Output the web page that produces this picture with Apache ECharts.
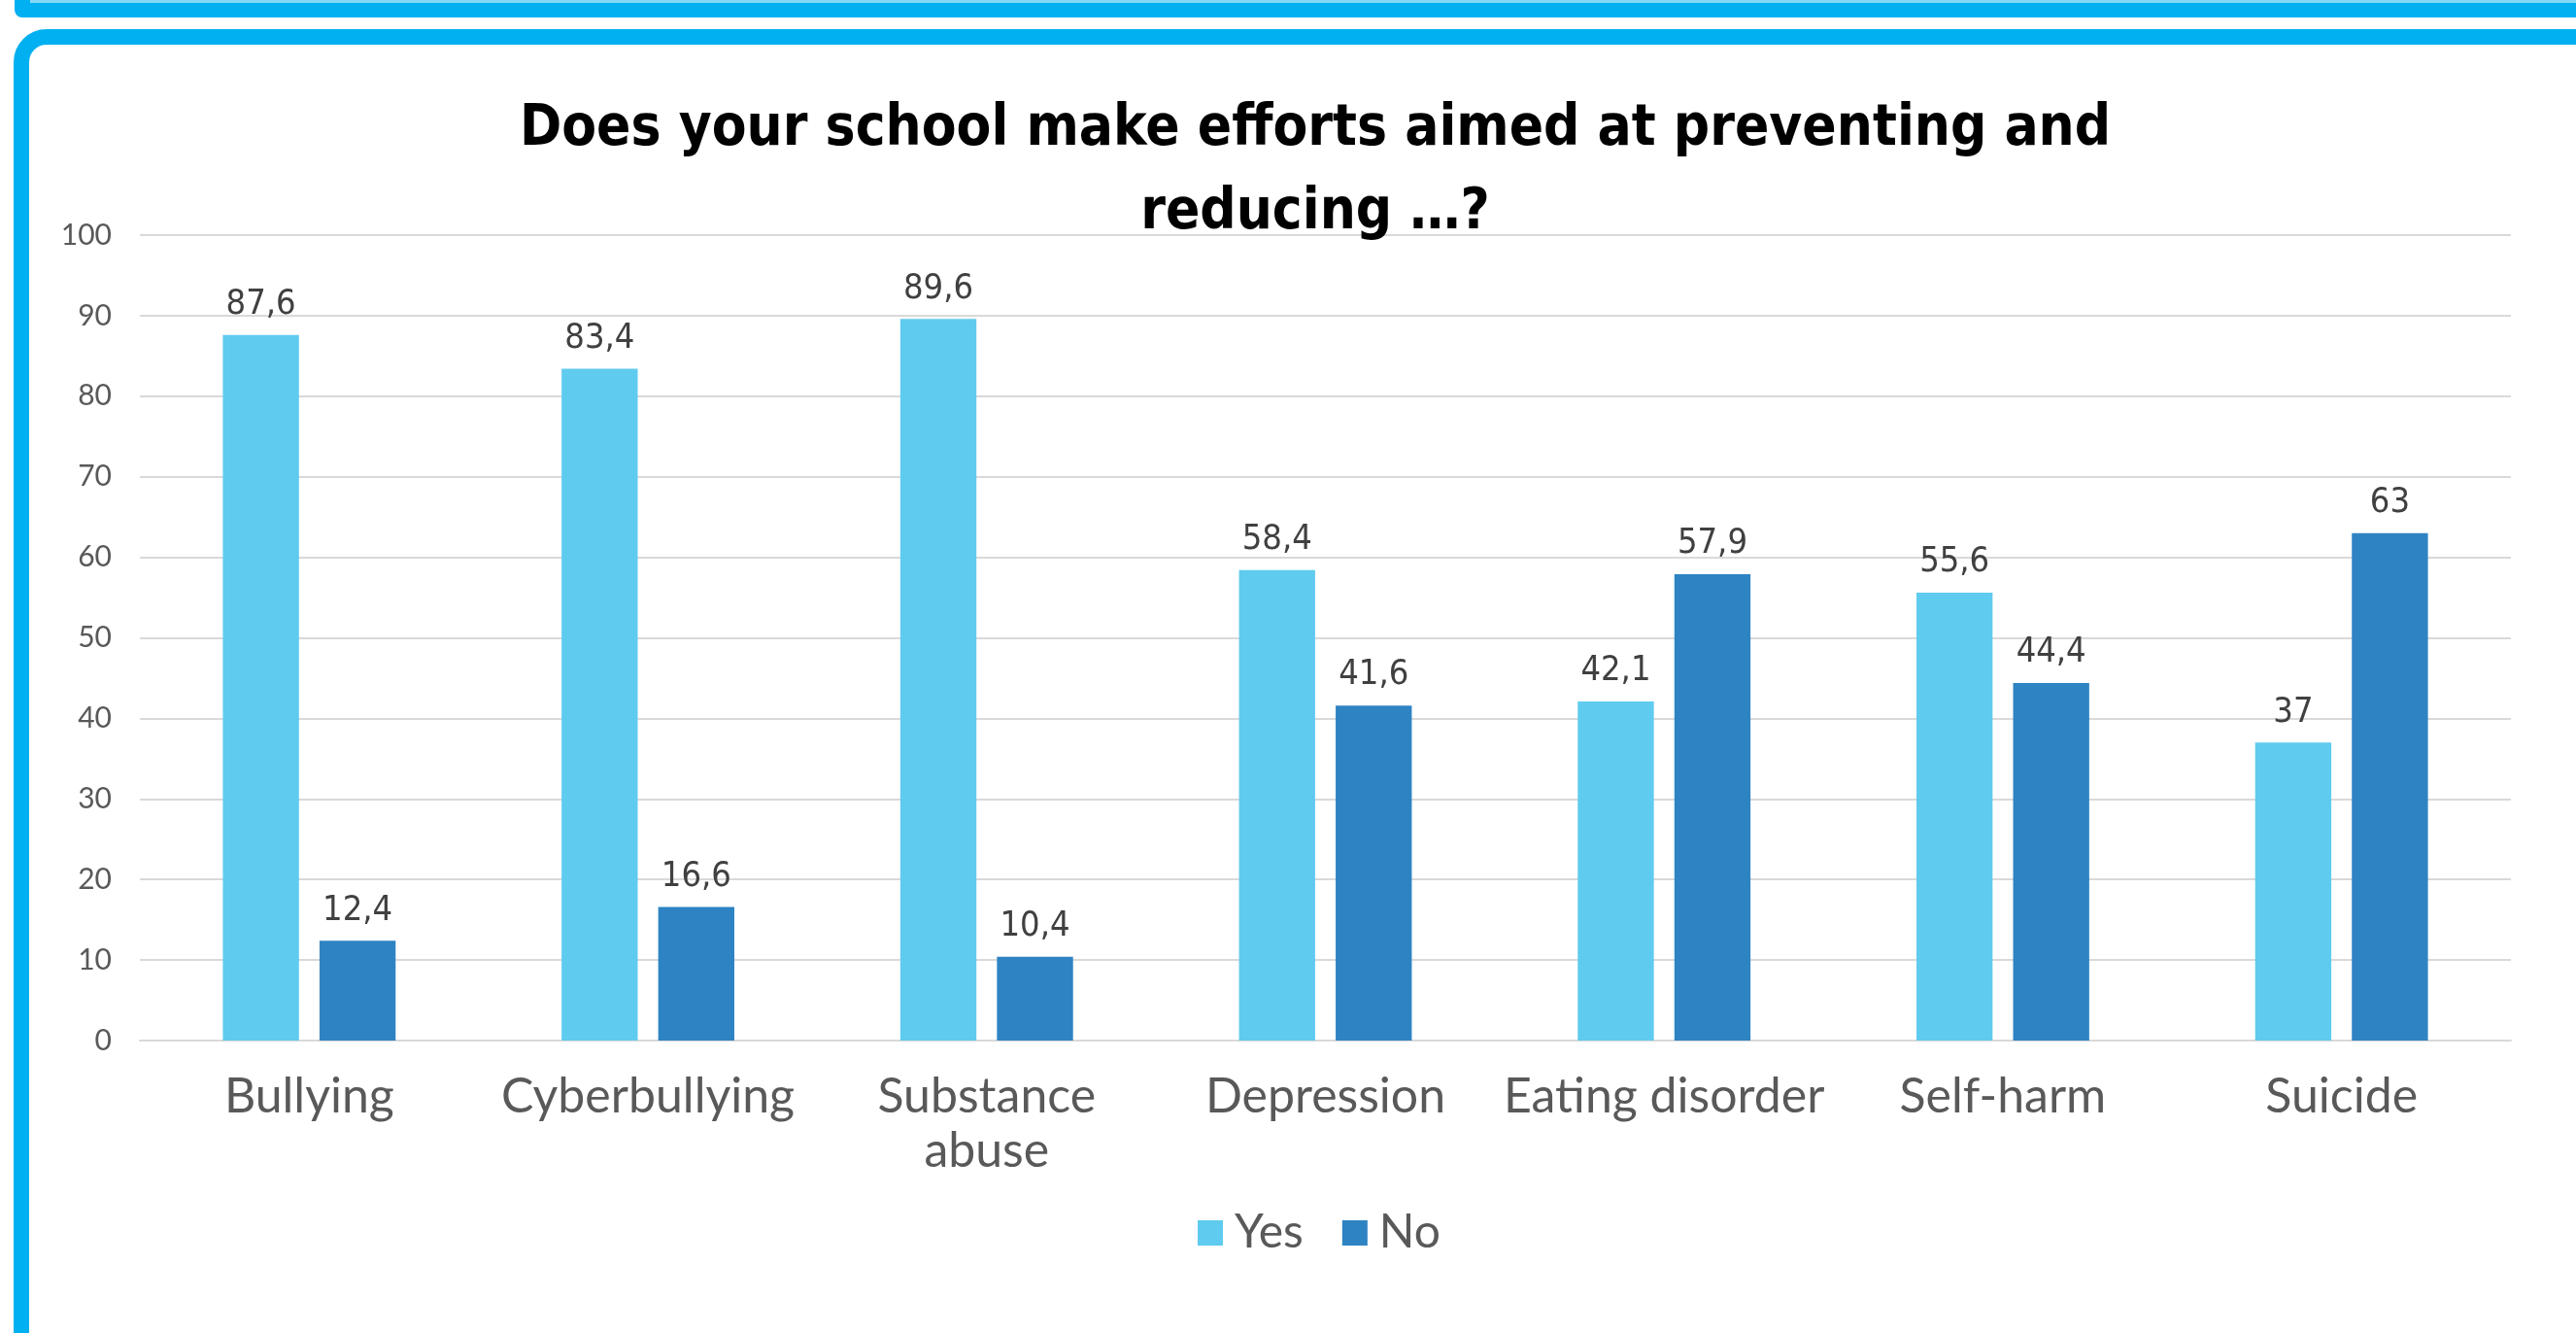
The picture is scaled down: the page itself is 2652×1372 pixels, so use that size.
<!DOCTYPE html>
<html>
<head>
<meta charset="utf-8">
<script src="https://cdn.jsdelivr.net/npm/echarts@6/dist/echarts.min.js"></script>
<style>
  html, body { margin: 0; padding: 0; width: 2652px; height: 1372px; overflow: hidden; background: #fff; }
  #topbar { position: absolute; left: 15px; top: -20px; width: 2700px; height: 38px; background: #00B0F0; border-bottom-left-radius: 8px; }
  #topstripe { position: absolute; left: 31px; top: 0px; width: 2700px; height: 3px; background: #86D8F7; }
  #frame { position: absolute; left: 14px; top: 30px; width: 2700px; height: 1400px; border: 16px solid #00B0F0; border-radius: 34px; box-sizing: border-box; }
  #chart { position: absolute; left: 0; top: 0; width: 2652px; height: 1372px; }
</style>
</head>
<body>
<div id="topbar"></div>
<div id="topstripe"></div>
<div id="frame"></div>
<div id="chart"></div>
<script>
const titleText = 'Does your school make efforts aimed at preventing and\nreducing …?';
const categories = ['Bullying', 'Cyberbullying', 'Substance\nabuse', 'Depression', 'Eating disorder', 'Self-harm', 'Suicide'];
const seriesNames = ['Yes', 'No'];
const yesValues = [87.6, 83.4, 89.6, 58.4, 42.1, 55.6, 37];
const noValues = [12.4, 16.6, 10.4, 41.6, 57.9, 44.4, 63];
const yTicks = { min: 0, max: 100, interval: 10 };

const chart = echarts.init(document.getElementById('chart'), null, { renderer: 'canvas' });
const labelFmt = p => String(p.value).replace('.', ',');
const dataLabel = {
  show: true, position: 'top', distance: 13,
  fontFamily: 'DejaVu Sans Condensed', fontSize: 36, color: '#404040',
  formatter: labelFmt
};
chart.setOption({
  backgroundColor: 'transparent',
  animation: false,
  title: {
    text: titleText,
    left: 1349, top: 86, textAlign: 'center',
    textStyle: { fontFamily: 'DejaVu Sans Condensed', fontWeight: 'bold', fontSize: 58, lineHeight: 86, color: '#000' }
  },
  legend: {
    data: seriesNames,
    left: 1228, top: 1240,
    itemWidth: 26, itemHeight: 26, itemGap: 40,
    icon: 'rect',
    textStyle: { fontFamily: 'Lato', fontSize: 48, color: '#595959', padding: [0, 0, 0, 7] }
  },
  grid: { left: 144, right: 67, top: 242, bottom: 301, containLabel: false },
  xAxis: {
    type: 'category',
    data: categories,
    axisTick: { show: false },
    axisLine: { lineStyle: { color: '#D9D9D9', width: 2 } },
    axisLabel: { fontFamily: 'Lato', fontSize: 50, color: '#595959', margin: 30, lineHeight: 56, interval: 0 }
  },
  yAxis: {
    type: 'value',
    min: yTicks.min, max: yTicks.max, interval: yTicks.interval,
    axisLine: { show: false },
    axisTick: { show: false },
    splitLine: { lineStyle: { color: '#D9D9D9', width: 2 } },
    axisLabel: { fontFamily: 'Lato', fontSize: 30, color: '#595959', margin: 29 }
  },
  series: [
    { name: seriesNames[0], type: 'bar', data: yesValues, barGap: '27%', barCategoryGap: '49%',
      itemStyle: { color: '#5FCBEF' }, label: dataLabel },
    { name: seriesNames[1], type: 'bar', data: noValues, barGap: '27%', barCategoryGap: '49%',
      itemStyle: { color: '#2E83C3' }, label: dataLabel }
  ]
});
</script>
</body>
</html>
